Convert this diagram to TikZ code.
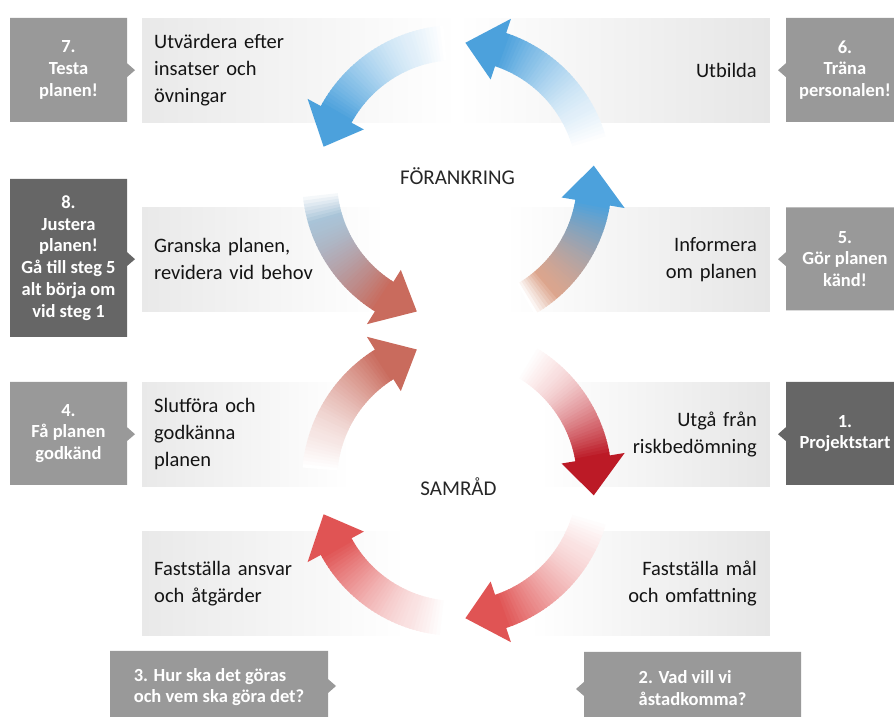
\documentclass[tikz,border=0pt]{standalone}
\usepackage{fontspec}
\setmainfont{Carlito}
\usepackage{tikz}
\usetikzlibrary{shapes.callouts}
\usepackage{xcolor}

\definecolor{ringblue}{HTML}{4CA1DC}
\definecolor{ringsalmon}{HTML}{C96B5D}
\definecolor{ringpeach}{HTML}{DCA58D}
\definecolor{ringsteel}{HTML}{A9C4D8}
\definecolor{ringred}{HTML}{E05454}
\definecolor{ringcrimson}{HTML}{BC1A26}
\definecolor{boxgray}{HTML}{E9E9E9}
\definecolor{boxgrayr}{HTML}{E6E6E6}
\definecolor{tagpale}{HTML}{999999}
\definecolor{tagdark}{HTML}{666666}
\colorlet{ringbluepale}{ringblue!15!white}
\colorlet{ringredpale}{ringred!15!white}
\colorlet{ringsalmonpale}{ringsalmon!15!white}

% ring arrow: centre, tail angle, base angle, tip angle, fade colour, head colour
\newcommand{\ringarrow}[6]{%
  \foreach \k in {0,...,39}{%
    \pgfmathsetmacro{\angA}{(#2)+((#3)-(#2))*\k/40}%
    \pgfmathsetmacro{\angB}{(#2)+((#3)-(#2))*(\k+1.3)/40}%
    \pgfmathtruncatemacro{\mixp}{\k<8 ? 100*\k/8 : 100*(max(\k-7,1)/32)^1.4}%
    \ifnum\k<8 \def\segcol{#5!\mixp!white}\else\def\segcol{#6!\mixp!#5}\fi
    \fill[shift={(#1)},fill=\segcol] (\angA:120) arc[start angle=\angA, end angle=\angB, radius=120]
      -- (\angB:155) arc[start angle=\angB, end angle=\angA, radius=155] -- cycle;
  }
  \fill[shift={(#1)},fill=#6] (#3:106) -- (#4:137.5) -- (#3:170) -- cycle;
}

\begin{document}
\begin{tikzpicture}[x=1pt,y=1pt,
  tagbox/.style={rectangle callout, fill=#1, text=white, align=center, inner sep=0pt,
    callout pointer width=14pt, font=\bfseries\fontsize{18.5}{21.7}\selectfont},
  lbox/.style={left color=boxgray, right color=white, anchor=north west, minimum height=104pt,
    inner xsep=12pt, inner ysep=0pt, align=left, text=black!92, font=\fontsize{20.5}{27}\selectfont},
  rbox/.style={left color=white, right color=boxgrayr, anchor=north east, minimum height=104pt,
    inner xsep=13pt, inner ysep=0pt, align=right, text=black!92, font=\fontsize{20.5}{27}\selectfont},
  ringlabel/.style={text=black!85, font=\fontsize{21}{25}\selectfont}]
	\useasboundingbox (0,0) rectangle (894,717);
	\clip (0,0) rectangle (894,717);

	\node[lbox, text width=291pt] (l7) at (142,699) {Utvärdera efter\\insatser och\\övningar};
	\node[rbox, text width=287pt] (r6) at (770,699) {Utbilda};
	\node[lbox, text width=219pt] (l8) at (142,510) {Granska planen,\\revidera vid behov};
	\node[rbox, text width=239pt] (r5) at (770,510) {Informera\\om planen};
	\node[lbox, text width=184pt] (l4) at (142,335) {Slutföra och\\godkänna\\planen};
	\node[rbox, text width=204pt] (r1) at (770,335) {Utgå från\\riskbedömning};
	\node[lbox, text width=239pt] (l3) at (142,186) {Fastställa ansvar\\och åtgärder};
	\node[rbox, text width=214pt] (r2) at (770,186) {Fastställa mål\\och omfattning};

	\coordinate (ctop) at (457,537);
	\coordinate (cbot) at (457,236);
	\ringarrow{ctop}{-60}{-9.5}{6}{ringpeach}{ringblue}
	\ringarrow{ctop}{15}{71.5}{86.5}{ringbluepale}{ringblue}
	\ringarrow{ctop}{95}{151.5}{166}{ringbluepale}{ringblue}
	\ringarrow{ctop}{185}{238}{253}{ringsteel}{ringsalmon}
	\ringarrow{cbot}{60}{9.5}{-6}{ringredpale}{ringcrimson}
	\ringarrow{cbot}{-15}{-71.5}{-86.5}{ringredpale}{ringred}
	\ringarrow{cbot}{-95}{-151.5}{-166}{ringredpale}{ringred}
	\ringarrow{cbot}{-185}{-238}{-253}{ringsalmonpale}{ringsalmon}

	\node[ringlabel] (foerank) at (457.5,541) {FÖRANKRING};
	\node[ringlabel] (samraad) at (458.5,230) {SAMRÅD};

	\coordinate (ptr3) at (336,31);
	\coordinate (ptr2) at (576,28);
	\node[tagbox=tagpale, minimum width=117pt, minimum height=104pt, callout absolute pointer={([xshift=-7pt]l7.west)}] (b7) at (68.5,647) {7.\\Testa\\planen!};
	\node[tagbox=tagdark, minimum width=117pt, minimum height=158pt, callout absolute pointer={([xshift=-7pt]l8.west)}] (b8) at (68.5,459) {8.\\Justera\\planen!\\Gå till steg 5\\alt börja om\\vid steg 1};
	\node[tagbox=tagpale, minimum width=117pt, minimum height=103pt, callout absolute pointer={([xshift=-7pt]l4.west)}] (b4) at (68.5,283.5) {4.\\Få planen\\godkänd};
	\node[tagbox=tagpale, minimum width=218pt, minimum height=72pt, align=left, callout absolute pointer={(ptr3)}] (b3) at (219,30) {3. Hur ska det göras\\och vem ska göra det?};
	\node[tagbox=tagpale, minimum width=217pt, minimum height=72pt, align=left, callout absolute pointer={(ptr2)}] (b2) at (692.5,29) {2. Vad vill vi\\åstadkomma?};
	\node[tagbox=tagdark, minimum width=118pt, minimum height=103pt, callout absolute pointer={([xshift=8pt]r1.east)}] (b1) at (845,283.5) {1.\\Projektstart};
	\node[tagbox=tagpale, minimum width=118pt, minimum height=103pt, callout absolute pointer={([xshift=8pt]r5.east)}] (b5) at (845,458) {5.\\Gör planen\\känd!};
	\node[tagbox=tagpale, minimum width=118pt, minimum height=104pt, callout absolute pointer={([xshift=8pt]r6.east)}] (b6) at (845,647) {6.\\Träna\\personalen!};
\end{tikzpicture}
\end{document}
